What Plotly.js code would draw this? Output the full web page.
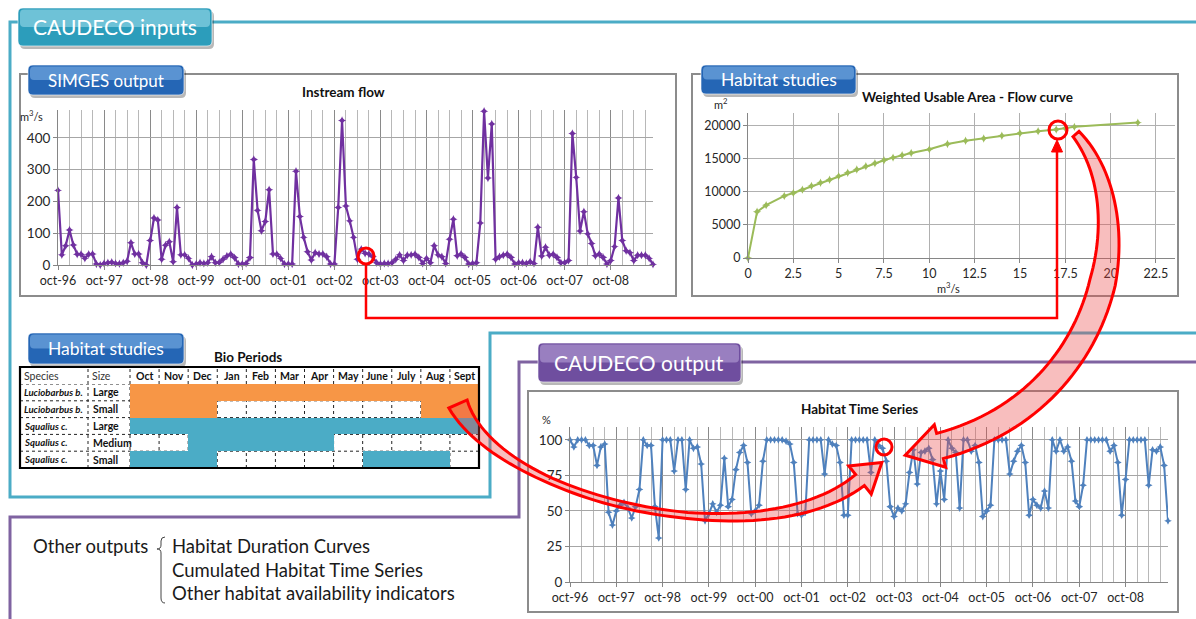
<!DOCTYPE html>
<html><head><meta charset="utf-8">
<script src="https://cdn.plot.ly/plotly-3.0.1.min.js"></script>
<style>html,body{margin:0;padding:0;background:#fff}#chart{width:1196px;height:619px}</style>
</head><body><div id="chart"></div>
<script>
// ---------------- DATA ----------------
const monthLabels = ['oct-96','oct-97','oct-98','oct-99','oct-00','oct-01','oct-02','oct-03','oct-04','oct-05','oct-06','oct-07','oct-08'];

const instreamFlow = [
 235,32,61,110,63,34,34,21,34,35,3,0,
 5,7,9,5,4,7,12,70,35,35,7,0,
 77,148,142,18,62,73,10,181,32,32,21,0,
 3,7,5,7,26,7,8,18,28,34,23,3,
 3,5,23,332,172,108,137,237,35,34,21,3,
 3,3,295,153,87,42,16,39,35,35,26,3,
 3,181,455,186,139,87,18,50,37,35,26,7,
 3,5,5,7,18,32,14,31,32,34,24,5,
 21,7,61,32,26,5,81,144,29,35,24,3,
 5,7,132,484,274,444,18,26,31,34,24,3,
 7,7,5,10,5,119,28,56,31,34,24,7,
 7,14,414,276,107,168,98,68,29,35,24,3,
 14,58,211,77,45,39,14,31,31,31,21,2
];

const habitatPct = [
 100,95,100,100,100,96,96,82,95,97,49,40,
 50,54,56,52,45,53,65,100,96,96,53,31,
 100,100,100,78,100,100,65,100,94,95,83,43,
 48,55,49,54,87,53,58,79,91,96,84,48,
 50,54,85,100,100,100,100,100,99,97,84,48,
 47,49,100,100,100,100,76,100,97,96,84,47,
 47,100,100,100,100,100,77,100,96,94,85,53,
 46,52,50,55,77,93,69,91,92,94,86,55,
 78,58,100,94,91,52,100,100,92,96,84,46,
 50,54,100,100,100,100,76,85,92,96,84,47,
 58,54,52,64,52,100,92,100,92,95,85,57,
 53,68,100,100,100,100,100,100,92,96,84,47,
 72,100,100,100,100,100,68,93,92,95,82,43
];

const wuaFlow = [0,0.5,1,2,2.5,3,3.5,4,4.5,5,5.5,6,6.5,7,7.5,8,8.5,9,10,11,12,13,14,15,16,17,17.5,18,21.5];
const wuaArea = [0,7000,8000,9400,9850,10350,10900,11400,11850,12400,12900,13400,13900,14350,14800,15200,15550,15900,16450,17250,17750,18100,18500,18900,19200,19450,19650,19850,20500];

const bioMonths  = ['Oct','Nov','Dec','Jan','Feb','Mar','Apr','May','June','July','Aug','Sept'];
const bioSpecies = ['Luciobarbus b.','Luciobarbus b.','Squalius c.','Squalius c.','Squalius c.'];
const bioSizes   = ['Large','Small','Large','Medium','Small'];
const bioLucioLarge  = [1,1,1,1,1,1,1,1,1,1,1,1];
const bioLucioSmall  = [1,1,1,0,0,0,0,0,0,0,1,1];
const bioSqualLarge  = [1,1,1,1,1,1,1,1,1,1,1,1];
const bioSqualMedium = [0,0,1,1,1,1,1,0,0,0,0,0];
const bioSqualSmall  = [1,1,1,0,0,0,0,0,1,1,1,0];

const otherOutputsLabel = 'Other outputs';
const otherOutputs = ['Habitat Duration Curves','Cumulated Habitat Time Series','Other habitat availability indicators'];

// ---------------- HELPERS ----------------
const W = 1196, H = 619;
const FONT = 'Lato, "Open Sans", sans-serif';
const X = x => x / W;
const Y = y => 1 - y / H;
const pt = (x, y) => X(x).toFixed(5) + ',' + Y(y).toFixed(5);

function rrect(x0, y0, x1, y1, r) {
  return 'M' + pt(x0 + r, y0) + ' L' + pt(x1 - r, y0) + ' Q' + pt(x1, y0) + ' ' + pt(x1, y0 + r) +
    ' L' + pt(x1, y1 - r) + ' Q' + pt(x1, y1) + ' ' + pt(x1 - r, y1) +
    ' L' + pt(x0 + r, y1) + ' Q' + pt(x0, y1) + ' ' + pt(x0, y1 - r) +
    ' L' + pt(x0, y0 + r) + ' Q' + pt(x0, y0) + ' ' + pt(x0 + r, y0) + ' Z';
}
function cubic(P, t) {
  const [a, b, c, d] = P, u = 1 - t;
  return [0, 1].map(k => u*u*u*a[k] + 3*u*u*t*b[k] + 3*u*t*t*c[k] + t*t*t*d[k]);
}
function cubicD(P, t) {
  const [a, b, c, d] = P, u = 1 - t;
  return [0, 1].map(k => 3*u*u*(b[k]-a[k]) + 6*u*t*(c[k]-b[k]) + 3*t*t*(d[k]-c[k]));
}
function bandArrow(P, wf, headLen, headHalf) {
  const N = 60, L = [], R = [];
  for (let i = 0; i <= N; i++) {
    const t = i / N, p = cubic(P, t), d = cubicD(P, t), m = Math.hypot(d[0], d[1]);
    const n = [-d[1] / m, d[0] / m], w = wf(t) / 2;
    L.push([p[0] + n[0]*w, p[1] + n[1]*w]); R.push([p[0] - n[0]*w, p[1] - n[1]*w]);
  }
  const p = P[3], d = cubicD(P, 1), m = Math.hypot(d[0], d[1]), u = [d[0]/m, d[1]/m], n = [-u[1], u[0]];
  const tip = [p[0] + u[0]*headLen, p[1] + u[1]*headLen];
  const bl = [p[0] + n[0]*headHalf, p[1] + n[1]*headHalf], br = [p[0] - n[0]*headHalf, p[1] - n[1]*headHalf];
  let s = 'M' + pt(...L[0]);
  for (let i = 1; i <= N; i++) s += ' L' + pt(...L[i]);
  s += ' L' + pt(...bl) + ' L' + pt(...tip) + ' L' + pt(...br);
  for (let i = N; i >= 0; i--) s += ' L' + pt(...R[i]);
  return s + ' Z';
}
function circle(cx, cy, r, w) {
  return {type:'circle', xref:'paper', yref:'paper', x0:X(cx-r), x1:X(cx+r), y0:Y(cy+r), y1:Y(cy-r),
          line:{color:'#FF0000', width:w}, fillcolor:'rgba(0,0,0,0)', layer:'above'};
}
function label(x, y, text, font, xanchor) {
  return {xref:'paper', yref:'paper', x:X(x), y:Y(y), text:text, showarrow:false,
          xanchor:xanchor || 'center', yanchor:'middle', font:font};
}

const monthIdx = instreamFlow.map((_, i) => i);
const yearTicks = monthLabels.map((_, k) => k * 12);
const quarterTicks = [];
for (let i = 3; i <= instreamFlow.length; i += 3) if (i % 12) quarterTicks.push(i);

// ---------------- TRACES ----------------
const bioRows = [bioLucioLarge, bioLucioSmall, bioSqualLarge, bioSqualMedium, bioSqualSmall];
const bioZ = bioRows.map((row, r) => row.map(v => v ? (bioSpecies[r].startsWith('Lucio') ? 1 : 2) : null));

const traces = [
  {type:'scatter', mode:'lines+markers', x:monthIdx, y:instreamFlow, xaxis:'x', yaxis:'y',
   line:{color:'#7030A0', width:2.2}, marker:{symbol:'star-diamond', size:6, color:'#7030A0'}, cliponaxis:false},
  {type:'scatter', mode:'lines+markers', x:wuaFlow, y:wuaArea, xaxis:'x2', yaxis:'y2',
   line:{color:'#9BBB59', width:2}, marker:{symbol:'star-diamond', size:6, color:'#9BBB59'}, cliponaxis:false},
  {type:'scatter', mode:'lines+markers', x:monthIdx, y:habitatPct, xaxis:'x3', yaxis:'y3',
   line:{color:'#4F81BD', width:2}, marker:{symbol:'star-diamond', size:5.5, color:'#4F81BD'}, cliponaxis:false},
  {type:'heatmap', z:bioZ, x:bioMonths.map((_, k) => k), y:bioSpecies.map((_, r) => r), xaxis:'x4', yaxis:'y4',
   zmin:1, zmax:2, colorscale:[[0,'#F79646'],[1,'#4BACC6']], showscale:false, hoverinfo:'skip', xgap:0, ygap:0}
];

// ---------------- AXES ----------------
const axCommon = {showline:true, linecolor:'#868686', linewidth:1, ticks:'outside', ticklen:4, tickcolor:'#868686',
                  zeroline:false, fixedrange:true, tickfont:{size:12.5, color:'#262626'}};
const layout = {
  width:W, height:H, margin:{l:0, r:0, t:0, b:0}, paper_bgcolor:'#ffffff', plot_bgcolor:'rgba(0,0,0,0)',
  showlegend:false, hovermode:false, font:{family:FONT, color:'#262626', size:12},
  xaxis: Object.assign({}, axCommon, {domain:[X(58), X(653)], range:[0,155], anchor:'y',
    tickmode:'array', tickvals:yearTicks, ticktext:monthLabels, showgrid:true, gridcolor:'#8a8a8a',
    minor:{tickmode:'array', tickvals:quarterTicks, showgrid:true, gridcolor:'#b8b8b8', gridwidth:1}}),
  yaxis: Object.assign({}, axCommon, {domain:[Y(265), Y(110)], range:[0,488], anchor:'x',
    tickmode:'linear', tick0:0, dtick:100, showgrid:true, gridcolor:'#a6a6a6', tickfont:{size:13.5, color:'#262626'}}),
  xaxis2: Object.assign({}, axCommon, {domain:[X(748), X(1175)], range:[0,23.55], anchor:'y2',
    tickmode:'linear', tick0:0, dtick:2.5, showgrid:true, gridcolor:'#b0b0b0'}),
  yaxis2: Object.assign({}, axCommon, {domain:[Y(258), Y(113)], range:[0,21950], anchor:'x2',
    tickmode:'linear', tick0:0, dtick:5000, tickformat:'d', showgrid:true, gridcolor:'#b0b0b0'}),
  xaxis3: Object.assign({}, axCommon, {domain:[X(570), X(1168)], range:[0,155], anchor:'y3',
    tickmode:'array', tickvals:yearTicks, ticktext:monthLabels, showgrid:true, gridcolor:'#8a8a8a',
    minor:{tickmode:'array', tickvals:quarterTicks, showgrid:true, gridcolor:'#b8b8b8', gridwidth:1}}),
  yaxis3: Object.assign({}, axCommon, {domain:[Y(582), Y(427)], range:[0,109], anchor:'x3',
    tickmode:'linear', tick0:0, dtick:25, showgrid:true, gridcolor:'#a6a6a6', tickfont:{size:13.5, color:'#262626'}}),
  xaxis4: {domain:[X(130), X(479)], range:[-0.5, 11.5], anchor:'y4', visible:false, fixedrange:true},
  yaxis4: {domain:[Y(468), Y(384)], range:[4.5, -0.5], anchor:'x4', visible:false, fixedrange:true},
  shapes: [], annotations: []
};
const S = layout.shapes, A = layout.annotations;

// ---------------- FRAMES ----------------
S.push({type:'path', xref:'paper', yref:'paper', layer:'below', fillcolor:'rgba(0,0,0,0)',
  path:'M'+pt(1196,22)+' L'+pt(10,22)+' L'+pt(10,497)+' L'+pt(490,497)+' L'+pt(490,333)+' L'+pt(1196,333),
  line:{color:'#4BACC6', width:3}});
S.push({type:'path', xref:'paper', yref:'paper', layer:'below', fillcolor:'rgba(0,0,0,0)',
  path:'M'+pt(1196,362)+' L'+pt(519,362)+' L'+pt(519,517)+' L'+pt(10,517)+' L'+pt(10,619),
  line:{color:'#7F63A1', width:3}});
[[20,74,676,296],[692,74,1178,296],[528,391,1178,612]].forEach(b => S.push({type:'rect', xref:'paper', yref:'paper', layer:'below',
  x0:X(b[0]), x1:X(b[2]), y0:Y(b[3]), y1:Y(b[1]), line:{color:'#8C8C8C', width:2}, fillcolor:'#ffffff'}));

// ---------------- TABLE ----------------
const dot = {color:'#222', width:1, dash:'dot'};
[88, 130].forEach(x => S.push({type:'line', xref:'paper', yref:'paper', layer:'below', x0:X(x), x1:X(x), y0:Y(468), y1:Y(367), line:dot}));
for (let k = 1; k < bioMonths.length; k++)
  S.push({type:'line', xref:'x4', yref:'paper', layer:'below', x0:k-0.5, x1:k-0.5, y0:Y(468), y1:Y(367), line:dot});
for (let r = 0; r < bioSpecies.length; r++)
  S.push({type:'line', xref:'paper', yref:'y4', layer:'below', x0:X(20), x1:X(479), y0:r-0.5, y1:r-0.5, line:dot});
S.push({type:'rect', xref:'paper', yref:'paper', layer:'above', x0:X(20), x1:X(479), y0:Y(468), y1:Y(367),
  line:{color:'#000', width:2.2}, fillcolor:'rgba(0,0,0,0)'});
A.push(label(22, 376, 'Species', {size:10.5, color:'#333'}, 'left'));
A.push(label(90, 376, 'Size', {size:10.5, color:'#333'}, 'left'));
bioMonths.forEach((m, k) => A.push({xref:'x4', yref:'paper', x:k, y:Y(376), text:'<b>'+m+'</b>', showarrow:false, xanchor:'center', yanchor:'middle', font:{size:10.5, color:'#111'}}));
bioSpecies.forEach((s, r) => {
  A.push({xref:'paper', yref:'y4', x:X(21.5), y:r, text:'<b><i>'+s+'</i></b>', showarrow:false, xanchor:'left', yanchor:'middle', font:{size:9.6, color:'#111'}});
  A.push({xref:'paper', yref:'y4', x:X(90.5), y:r, text:'<b>'+bioSizes[r]+'</b>', showarrow:false, xanchor:'left', yanchor:'middle', font:{size:10.5, color:'#111'}});
});

// ---------------- TITLES / UNITS ----------------
const titleF = {size:13.5, color:'#111'};
A.push(label(344, 92, '<b>Instream flow</b>', titleF));
A.push(label(967, 97, '<b>Weighted Usable Area - Flow curve</b>', titleF));
A.push(label(248, 357, '<b>Bio Periods</b>', titleF));
A.push(label(859, 409, '<b>Habitat Time Series</b>', titleF));
const unitF = {size:11, color:'#262626'};
A.push(label(31, 115, 'm<sup>3</sup>/s', unitF));
A.push(label(721, 103, 'm<sup>2</sup>', unitF));
A.push(label(948, 287, 'm<sup>3</sup>/s', unitF));
A.push(label(546, 420, '%', unitF));

// ---------------- OTHER OUTPUTS ----------------
const ooF = {size:18.5, color:'#1a1a1a'};
A.push(label(31, 546, otherOutputsLabel, ooF, 'left'));
otherOutputs.forEach((t, i) => A.push(label(170, 546 + i*23.5, t, ooF, 'left')));
S.push({type:'path', xref:'paper', yref:'paper', layer:'above', fillcolor:'rgba(0,0,0,0)', line:{color:'#444', width:1},
  path:'M'+pt(165,537)+' Q'+pt(161,537)+' '+pt(161,541)+' L'+pt(161,545)+' Q'+pt(161,549)+' '+pt(157,549)+' Q'+pt(161,549)+' '+pt(161,553)+' L'+pt(161,598)+' Q'+pt(161,603)+' '+pt(165,603)});

// ---------------- BANNERS ----------------
function banner(x0, y0, x1, y1, base, hi, text, size) {
  S.push({type:'path', xref:'paper', yref:'paper', layer:'above', path:rrect(x0+2, y0+3, x1+2, y1+3, 5), fillcolor:'rgba(0,0,0,0.28)', line:{width:0}});
  S.push({type:'path', xref:'paper', yref:'paper', layer:'above', path:rrect(x0, y0, x1, y1, 5), fillcolor:base, line:{color:'rgba(255,255,255,0.6)', width:1}});
  S.push({type:'path', xref:'paper', yref:'paper', layer:'above', path:rrect(x0+2, y0+1.5, x1-2, (y0+y1)/2, 4), fillcolor:hi, opacity:0.55, line:{width:0}});
  A.push(label((x0+x1)/2, (y0+y1)/2, text, {size:size, color:'#ffffff'}));
}
banner(18, 8, 212, 46, '#2C9DBB', '#A6E0EE', 'CAUDECO inputs', 21);
banner(28, 65, 184, 95, '#2566B5', '#86B8EA', 'SIMGES output', 17);
banner(701, 65, 856, 94, '#2566B5', '#86B8EA', 'Habitat studies', 17.5);
banner(28, 333, 184, 364, '#2566B5', '#86B8EA', 'Habitat studies', 17.5);
banner(538, 343, 741, 382, '#6F4E9F', '#BCA8DA', 'CAUDECO output', 21);

// ---------------- RED ANNOTATION MARKS ----------------
S.push(circle(366, 256, 8, 3));
S.push(circle(1058, 130, 9, 3));
S.push(circle(884, 447, 8, 3));
S.push({type:'path', xref:'paper', yref:'paper', layer:'above', fillcolor:'rgba(0,0,0,0)', line:{color:'#FF0000', width:2.5},
  path:'M'+pt(366,264)+' L'+pt(366,318)+' L'+pt(1057,318)+' L'+pt(1057,150)});
S.push({type:'path', xref:'paper', yref:'paper', layer:'above', fillcolor:'#FF0000', line:{color:'#FF0000', width:1},
  path:'M'+pt(1051.5,152)+' L'+pt(1057,140)+' L'+pt(1062.5,152)+' Z'});
const arrowFill = 'rgba(235,70,70,0.35)';
S.push({type:'path', xref:'paper', yref:'paper', layer:'above', fillcolor:arrowFill, line:{color:'#FF0000', width:3},
  path:bandArrow([[458,404],[500,500],[760,560],[860,480]],
    t => t < 0.35 ? 6 + 14*Math.pow(1 - t/0.35, 2) : 6 + 8*Math.max(0, (t-0.6)/0.4), 28, 18)});
S.push({type:'path', xref:'paper', yref:'paper', layer:'above', fillcolor:arrowFill, line:{color:'#FF0000', width:3},
  path:bandArrow([[1076,134],[1142,210],[1112,400],[940,446]],
    t => 8 + 18*Math.min(1, t/0.45), 36, 22)});

Plotly.newPlot('chart', traces, layout, {staticPlot:true, displayModeBar:false});
</script>
</body></html>
